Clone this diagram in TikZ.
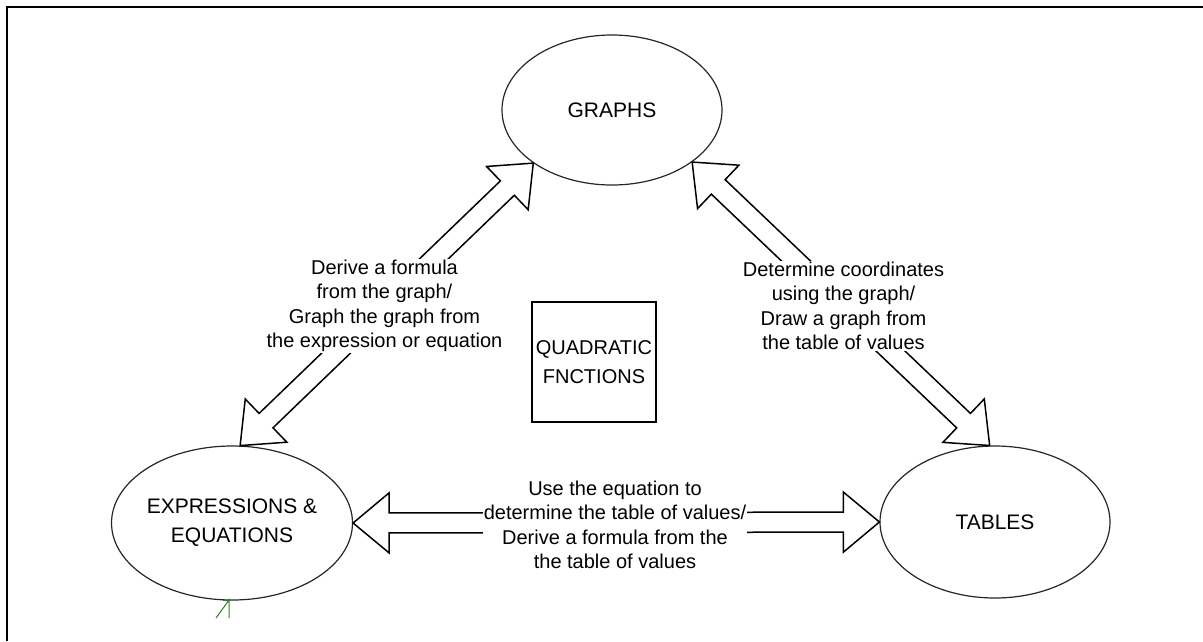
\documentclass[tikz,border=0pt]{standalone}
\usepackage{fontspec}
\setmainfont{Liberation Sans}
\usetikzlibrary{shapes.geometric,calc}
\definecolor{gline}{RGB}{40,130,40}
\newcommand{\dblarr}[2]{%
  \coordinate (ha) at ($(#1)!36pt!(#2)$);
  \coordinate (hb) at ($(#2)!36pt!(#1)$);
  \draw[darrow] (#1) -- ($(ha)!30pt!90:(#2)$) -- ($(ha)!10pt!90:(#2)$)
    -- ($(hb)!10pt!-90:(#1)$) -- ($(hb)!30pt!-90:(#1)$) -- (#2)
    -- ($(hb)!30pt!90:(#1)$) -- ($(hb)!10pt!90:(#1)$)
    -- ($(ha)!10pt!-90:(#2)$) -- ($(ha)!30pt!-90:(#2)$) -- cycle;}
\begin{document}
\begin{tikzpicture}[x=1pt,y=-1pt,
  txt/.style={font=\fontsize{20}{24.5}\selectfont},
  ntxt/.style={font=\fontsize{21}{29}\selectfont},
  ell/.style={ellipse,draw=black!85,line width=1.2pt,inner sep=0pt,align=center,ntxt},
  qbox/.style={rectangle,draw,line width=1.3pt,align=center,inner sep=0pt,font=\fontsize{20}{29}\selectfont},
  lbl/.style={fill=white,inner sep=0.5pt,align=center,txt},
  darrow/.style={draw,line width=1.5pt,line join=miter,fill=white},
  frame/.style={line width=2.5pt}]
\useasboundingbox (0,0) rectangle (1203,641);
\draw[frame] (7,641) -- (7,7) -- (1203,7);

\node[ell,minimum width=220pt,minimum height=150pt] (graphs) at (612,110) {GRAPHS};
\node[ell,minimum width=236pt,minimum height=154pt] (expr) at (232,523) {EXPRESSIONS \&\\EQUATIONS};
\node[ell,minimum width=230pt,minimum height=152pt] (tables) at (995,522) {TABLES};
\node[qbox,minimum width=124pt,minimum height=120pt] (quad) at (594,362) {QUADRATIC\\FNCTIONS};

\dblarr{graphs.214}{expr.84}
\dblarr{graphs.327}{tables.94}
\dblarr{expr.east}{tables.west}

\node[lbl] (l1) at (384.5,306) {Derive a formula\\from the graph/\\Graph the graph from\\the expression or equation};
\node[lbl] (l2) at (843.5,306) {Determine coordinates\\using the graph/\\Draw a graph from\\the table of values};
\node[lbl] (l3) at (615,525) {Use the equation to\\determine the table of values/\\Derive a formula from the\\the table of values};

\coordinate (gtip) at (229,600);
\coordinate (gtail) at (216,618);
\coordinate (gbarb) at (229,618);
\coordinate (gbarb2) at (223,600);
\draw[gline,line width=1pt] (gtail) -- (gtip) -- (gbarb);
\draw[gline,line width=1pt] (gbarb2) -- (gtip);
\end{tikzpicture}
\end{document}
